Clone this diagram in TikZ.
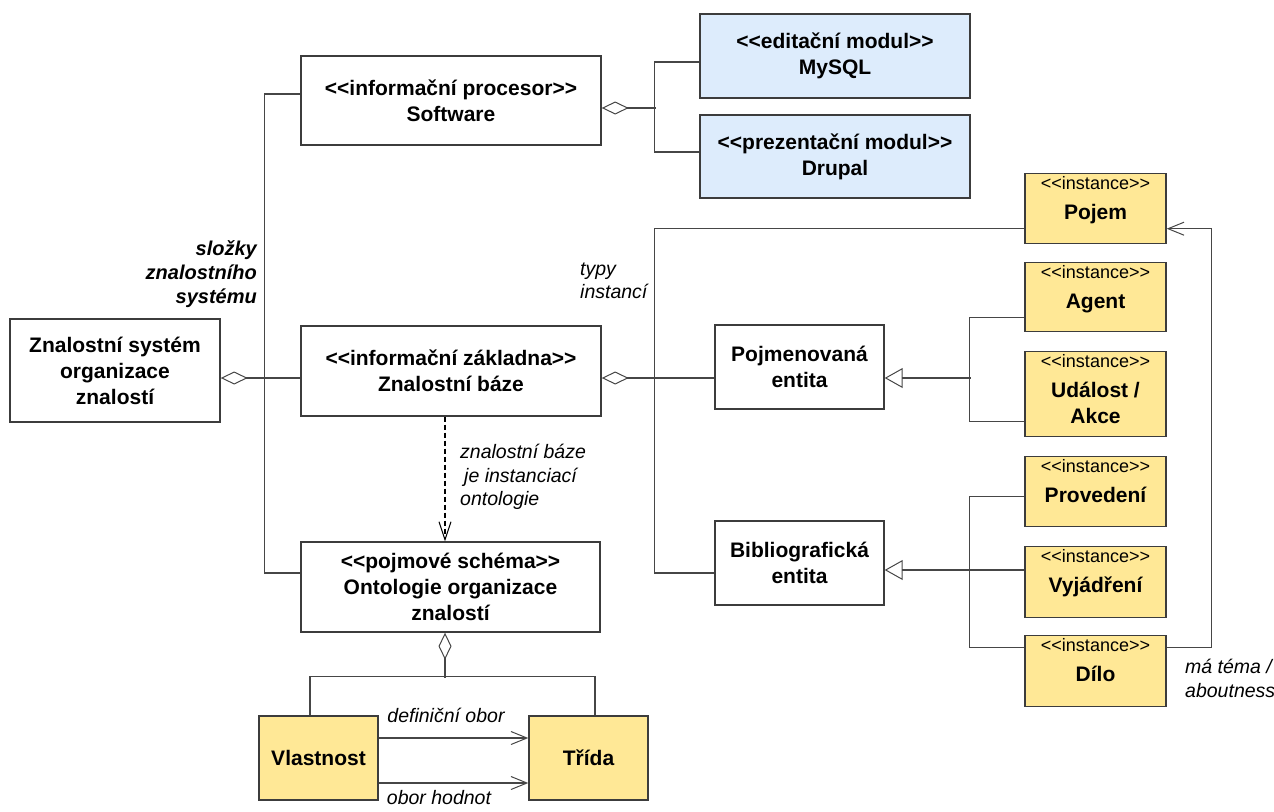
\documentclass[tikz,border=0pt]{standalone}
\usepackage{fontspec}
\setmainfont{Liberation Sans}
\usetikzlibrary{arrows.meta,calc}

\definecolor{modblue}{RGB}{221,236,252}
\definecolor{instyel}{RGB}{255,232,150}
\definecolor{edgegray}{RGB}{60,60,60}
\definecolor{wiregray}{RGB}{70,70,70}

% UML stereotype brackets, kept apart so no << or >> ligature forms
\newcommand\umlst[1]{<{}<#1>{}>}

\begin{document}
\begin{tikzpicture}[x=1pt,y=-1pt,
  box/.style={draw=edgegray, line width=1.4pt, fill=white, rectangle,
    inner sep=0pt, align=center, font=\bfseries\fontsize{21}{26}\selectfont},
  bluebox/.style={box, fill=modblue},
  ibox/.style={box, fill=instyel, minimum width=141pt},
  wire/.style={draw=wiregray, line width=1.2pt},
  agg/.style={wire, {Diamond[open, length=27pt, width=13pt, line width=1pt]}-},
  gen/.style={wire, -{Triangle[open, length=18pt, width=20pt, line width=1pt]}},
  nav/.style={wire, -{Straight Barb[length=16pt, width=13pt, line width=1pt]}},
  dep/.style={draw=black, line width=1.4pt, dash pattern=on 5pt off 3pt,
    -{Straight Barb[length=18pt, width=12pt, line width=1pt]}},
  lbl/.style={font=\itshape\fontsize{19.5}{23.5}\selectfont, inner sep=0pt},
  stereo/.style={font=\fontsize{18}{20}\selectfont, inner sep=0pt},
  iname/.style={font=\bfseries\fontsize{21}{26}\selectfont, inner sep=0pt},
]
\useasboundingbox (0,0) rectangle (1274,811);

% ---- main components -------------------------------------------------
\node[box, minimum width=210pt, minimum height=103pt] (sys) at (115,370.5)
  {Znalostní systém\\organizace\\znalostí};
\node[box, minimum width=300pt, minimum height=89pt] (sw) at (451,100.5)
  {\umlst{informační procesor}\\Software};
\node[box, minimum width=300pt, minimum height=90pt] (kb) at (451,371)
  {\umlst{informační základna}\\Znalostní báze};
\node[box, minimum width=299pt, minimum height=90pt] (onto) at (450.5,587)
  {\umlst{pojmové schéma}\\Ontologie organizace\\znalostí};

% ---- software modules ------------------------------------------------
\node[bluebox, minimum width=270pt, minimum height=84pt] (mysql) at (835,56)
  {\umlst{editační modul}\\MySQL};
\node[bluebox, minimum width=270pt, minimum height=83pt] (drupal) at (835,156.5)
  {\umlst{prezentační modul}\\Drupal};

% ---- entity types ------------------------------------------------------
\node[box, minimum width=169pt, minimum height=84pt] (pojm) at (799.5,367)
  {Pojmenovaná\\entita};
\node[box, minimum width=169pt, minimum height=84pt] (bib) at (799.5,563)
  {Bibliografická\\entita};

% ---- instances ---------------------------------------------------------
\newcommand\instbox[5]{%
  \node[ibox, minimum height=#4pt, anchor=north] (#1) at (#2,#3) {};
  \node[stereo, anchor=base] (#1-st) at ($(#1.north)+(0,16)$) {\umlst{instance}};
  \node[iname, anchor=base] (#1-nm) at ($(#1.north)+(0,46)$) {#5};}
\instbox{pojem}{1095.5}{173}{70}{Pojem}
\instbox{agent}{1095.5}{262}{69}{Agent}
\instbox{udal}{1095.5}{351}{85}{Událost /}
\node[iname, anchor=base] (udal-nm2) at ($(udal.north)+(0,72)$) {Akce};
\instbox{prov}{1095.5}{456}{70}{Provedení}
\instbox{vyj}{1095.5}{546}{71}{Vyjádření}
\instbox{dilo}{1095.5}{635}{71}{Dílo}

% ---- ontology parts ----------------------------------------------------
\node[box, fill=instyel, minimum width=119pt, minimum height=84pt] (vlast) at (318.5,758) {Vlastnost};
\node[box, fill=instyel, minimum width=119pt, minimum height=84pt] (trida) at (588.5,758) {Třída};

% ---- system composition ------------------------------------------------
\coordinate (sysc) at ($(sys.east)+(0,7.5)$);
\draw[agg] (sysc) -- (kb.west |- sysc);
\draw[wire] ($(sw.west)+(0,-6.5)$) -| ($(onto.west)+(-36,-14)$) -- ($(onto.west)+(0,-14)$);
\node[font=\bfseries\itshape\fontsize{20}{24}\selectfont, inner sep=0pt, align=right, anchor=east]
  (compLbl) at (257,274) {složky\\znalostního\\systému};

% ---- software aggregation ----------------------------------------------
\coordinate (swc) at ($(sw.east)+(0,7.5)$);
\coordinate (swj) at ($(swc)+(54,0)$);
\draw[agg] (swc) -- (swj);
\draw[wire] ($(mysql.west)+(0,6)$) -| ($(drupal.west)+(-45,-4.5)$) -- ($(drupal.west)+(0,-4.5)$);

% ---- knowledge base to entity types -----------------------------------
\coordinate (kbc) at ($(kb.east)+(0,7)$);
\draw[agg] (kbc) -- (pojm.west |- kbc);
\draw[wire] ($(pojem.west)+(0,20)$) -| ($(bib.west)+(-60,10)$) -- ($(bib.west)+(0,10)$);
\node[lbl, align=left, anchor=west] (typLbl) at (580,281) {typy\\instancí};

% ---- generalisations ---------------------------------------------------
\coordinate (pojmc) at ($(pojm.east)+(0,11)$);
\coordinate (gj1) at ($(pojmc)+(86,0)$);
\draw[wire] ($(agent.west)+(0,20.5)$) -| ($(udal.west)+(-55,27.5)$) -- ($(udal.west)+(0,27.5)$);
\draw[gen] (gj1) -- (pojmc);
\draw[wire] ($(prov.west)+(0,5)$) -| ($(dilo.west)+(-55,-23.5)$) -- ($(dilo.west)+(0,-23.5)$);
\coordinate (bibc) at ($(bib.east)+(0,7)$);
\draw[gen] (vyj.west |- bibc) -- (bibc);

% ---- aboutness ---------------------------------------------------------
\draw[nav] ($(dilo.east)+(0,-23.5)$) -| ($(pojem.east)+(45,20)$) -- ($(pojem.east)+(0,20)$);
\node[lbl, align=left, anchor=west] (aboutLbl) at (1185,678.5) {má téma /\\aboutness};

% ---- instantiation dependency ------------------------------------------
\draw[dep] ($(kb.south)+(-6,0)$) -- ($(onto.north)+(-5.5,0)$);
\node[lbl, align=left, anchor=west] (depLbl) at (460,477)
  {znalostní báze\\\hspace*{4pt}je instanciací\\ontologie};

% ---- ontology composition ----------------------------------------------
\coordinate (oj) at ($(onto.south)+(-5.5,45)$);
\draw[agg] ($(onto.south)+(-5.5,0)$) -- (oj);
\draw[wire] ($(vlast.north)+(-8.5,0)$) |- ($(trida.north)+(6.5,-39)$) -- ($(trida.north)+(6.5,0)$);
\draw[nav] ($(vlast.east)+(0,-20)$) -- ($(trida.west)+(0,-20)$);
\draw[nav] ($(vlast.east)+(0,25)$) -- ($(trida.west)+(0,25)$);
\node[lbl] (domLbl) at (446,715) {definiční obor};
\node[lbl] (rngLbl) at (439,798) {obor hodnot};
\end{tikzpicture}
\end{document}
